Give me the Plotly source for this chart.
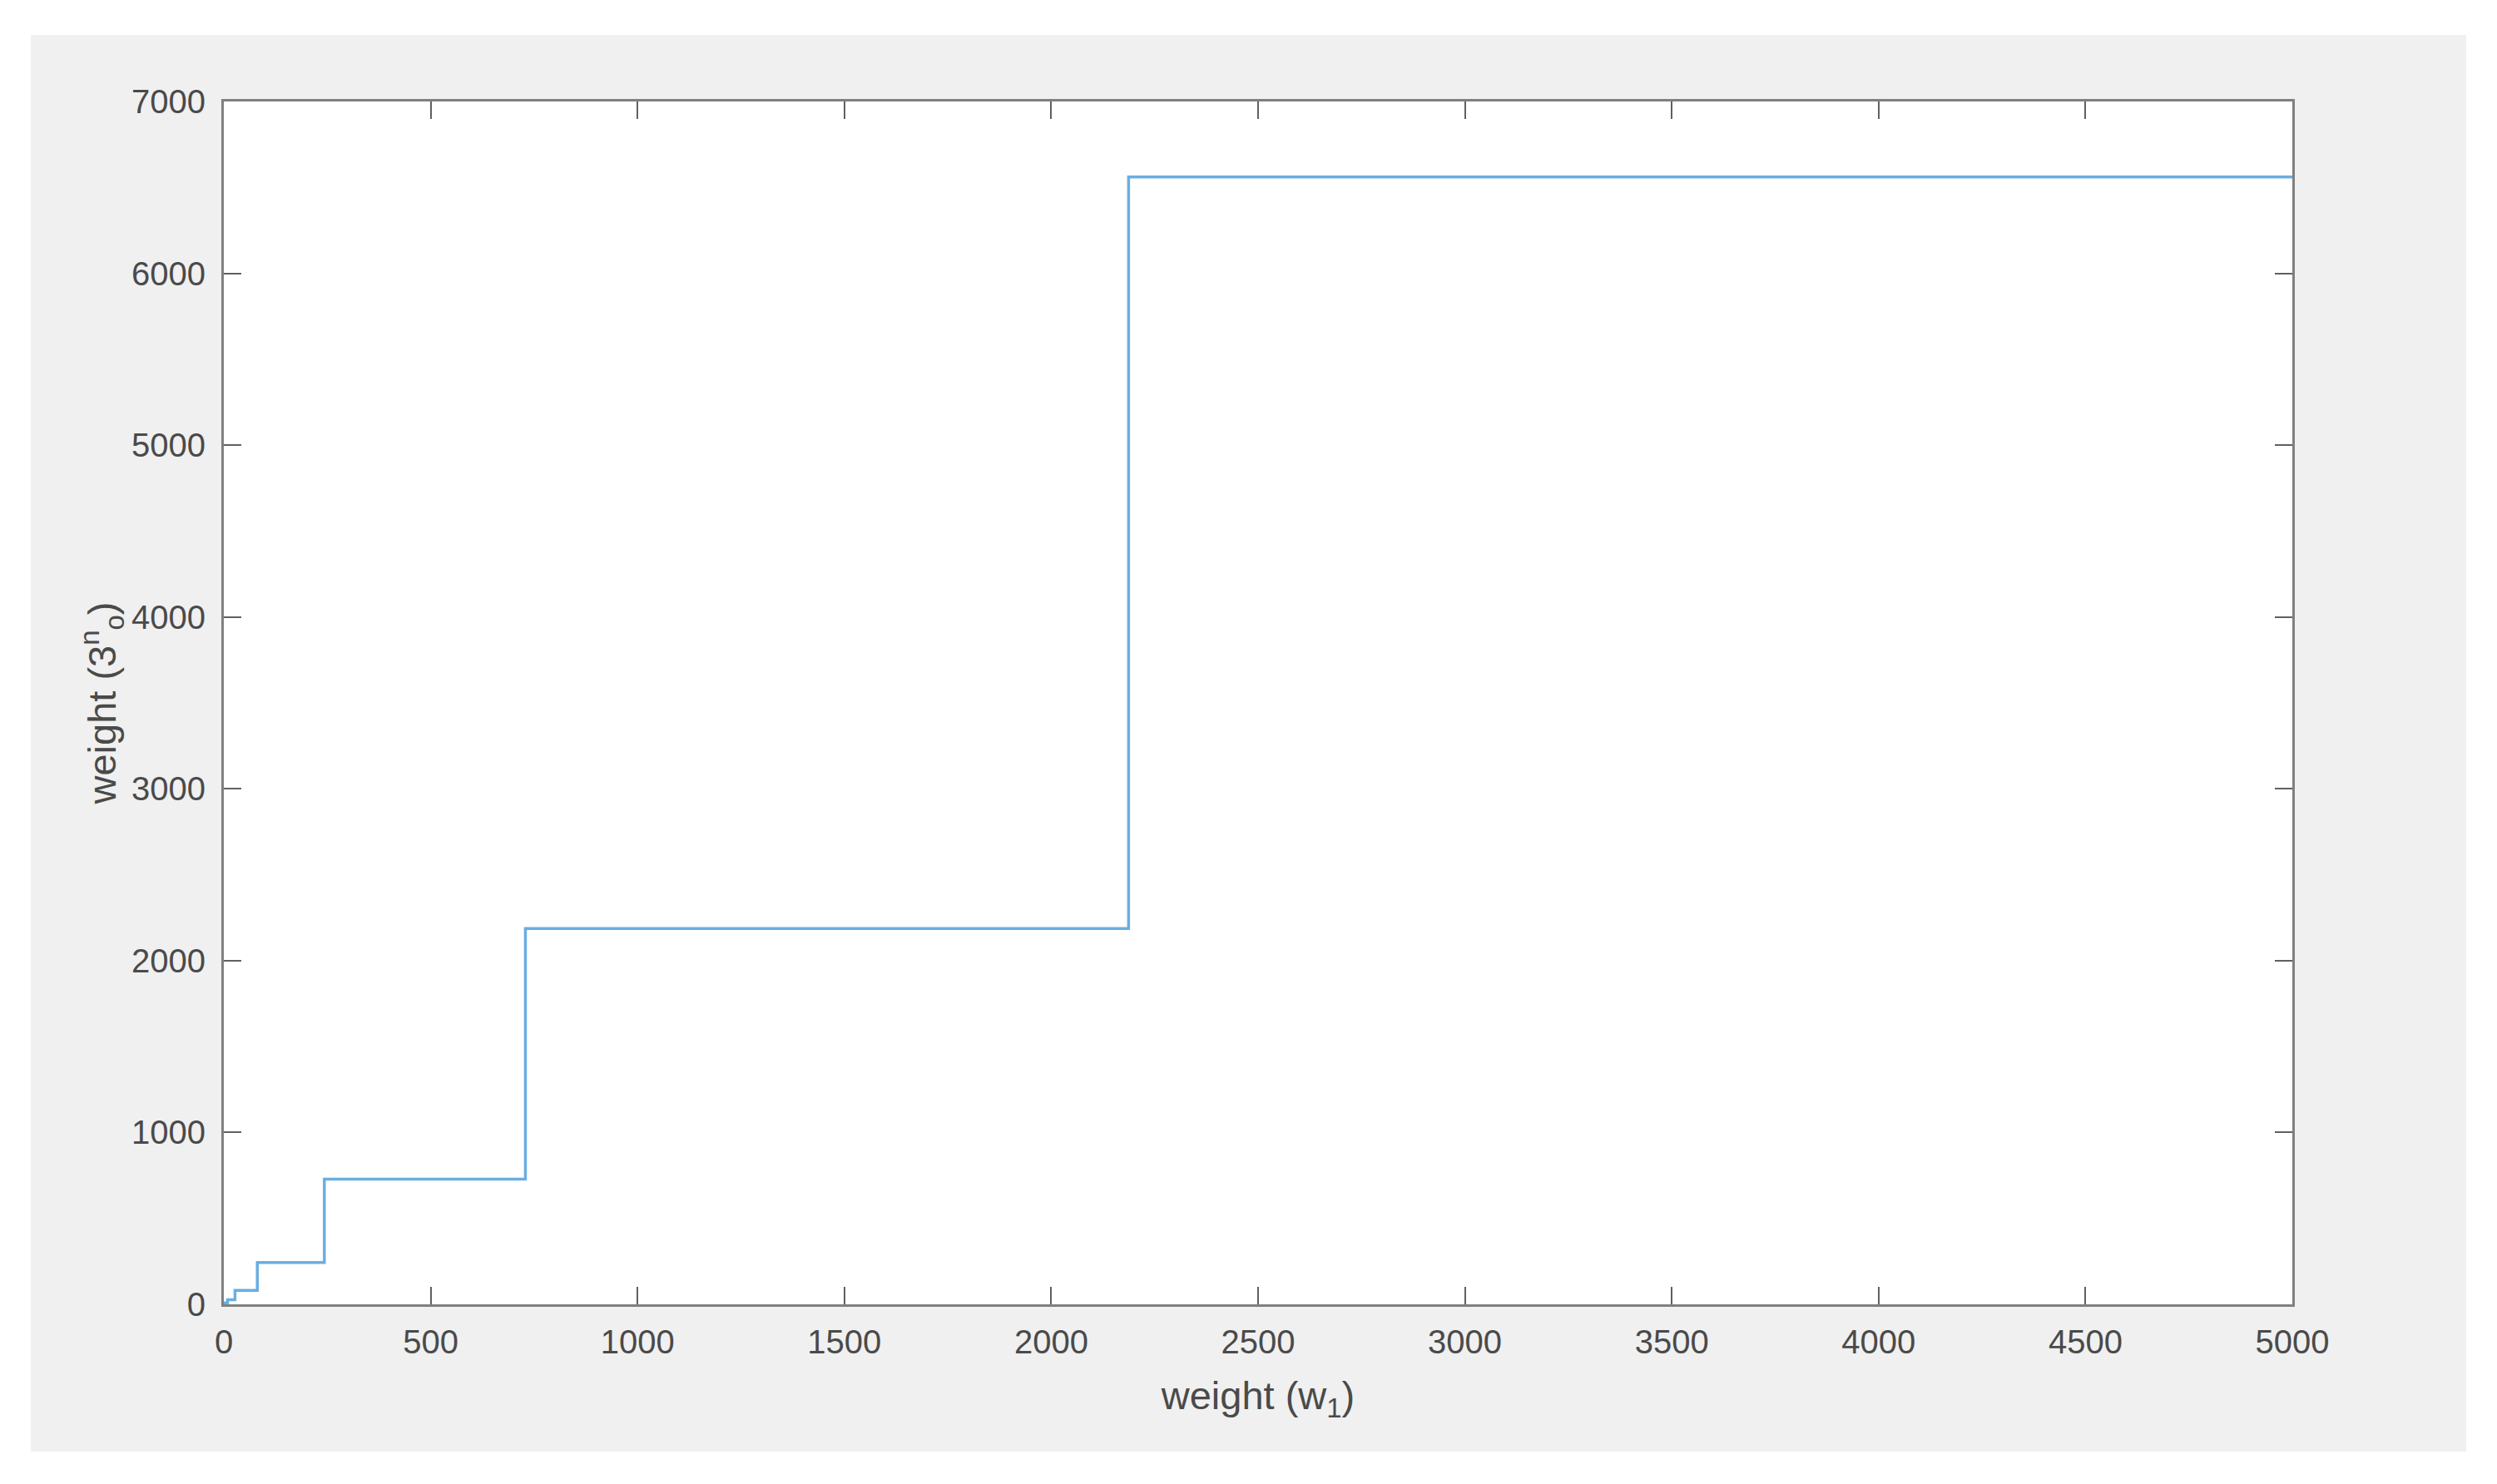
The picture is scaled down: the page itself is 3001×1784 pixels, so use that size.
import plotly.graph_objects as go

# step points: w1 thresholds and the 3^n weight reached at each one
w1 = [0, 1, 3, 9, 27, 81, 243, 729, 2187, 5000]
weight_3n = [0, 1, 3, 9, 27, 81, 243, 729, 2187, 6561]

x_ticks = [0, 500, 1000, 1500, 2000, 2500, 3000, 3500, 4000, 4500, 5000]
y_ticks = [0, 1000, 2000, 3000, 4000, 5000, 6000, 7000]

# page body has an 8px margin, so the figure is a bit smaller than the window
OFF = 8
W, H = 3001 - OFF, 1784 - OFF
left, right, top, bottom = 269 - OFF, 2755 - OFF, 122 - OFF, 1568 - OFF
pw, ph = right - left, bottom - top

fig = go.Figure()
fig.add_trace(go.Scatter(
    x=w1, y=weight_3n,
    mode='lines',
    line=dict(color='#6aaee0', width=3.5, shape='vh'),
    showlegend=False,
))

# matlab style grey figure frame, then the white axes box on top of it
fig.add_shape(type='rect', xref='paper', yref='paper', layer='below',
              x0=(37 - OFF - left) / pw, x1=(2964 - OFF - left) / pw,
              y0=(bottom - (1745 - OFF)) / ph, y1=(bottom - (42 - OFF)) / ph,
              fillcolor='#f0f0f0', line_width=0)
fig.add_shape(type='rect', xref='paper', yref='paper', layer='below',
              x0=0, x1=1, y0=0, y1=1,
              fillcolor='white', line_width=0)

font_ticks = dict(family='Liberation Sans, Arial', size=40, color='#4a4a4a')
font_title = dict(family='Liberation Sans, Arial', size=47, color='#4a4a4a')

axis_style = dict(
    showline=True, linecolor='#808080', linewidth=3, mirror='allticks',
    ticks='inside', ticklen=21, tickwidth=2, tickcolor='#606060',
    showgrid=False, zeroline=False, tickfont=font_ticks,
)

fig.update_xaxes(
    range=[0, 5000], tickvals=x_ticks, ticklabelstandoff=8, **axis_style,
    title=dict(text='weight (w<sub>1</sub>)', standoff=28, font=font_title),
)
fig.update_yaxes(
    range=[0, 7000], tickvals=y_ticks, ticklabelstandoff=11, **axis_style,
    title=dict(text='weight (3<sup>n</sup><sub>o</sub>)', standoff=4, font=font_title),
)

fig.update_layout(
    width=W, height=H,
    margin=dict(l=left, r=W - right, t=top, b=H - bottom),
    paper_bgcolor='white',
    plot_bgcolor='white',
)

fig.write_html("out.html")
